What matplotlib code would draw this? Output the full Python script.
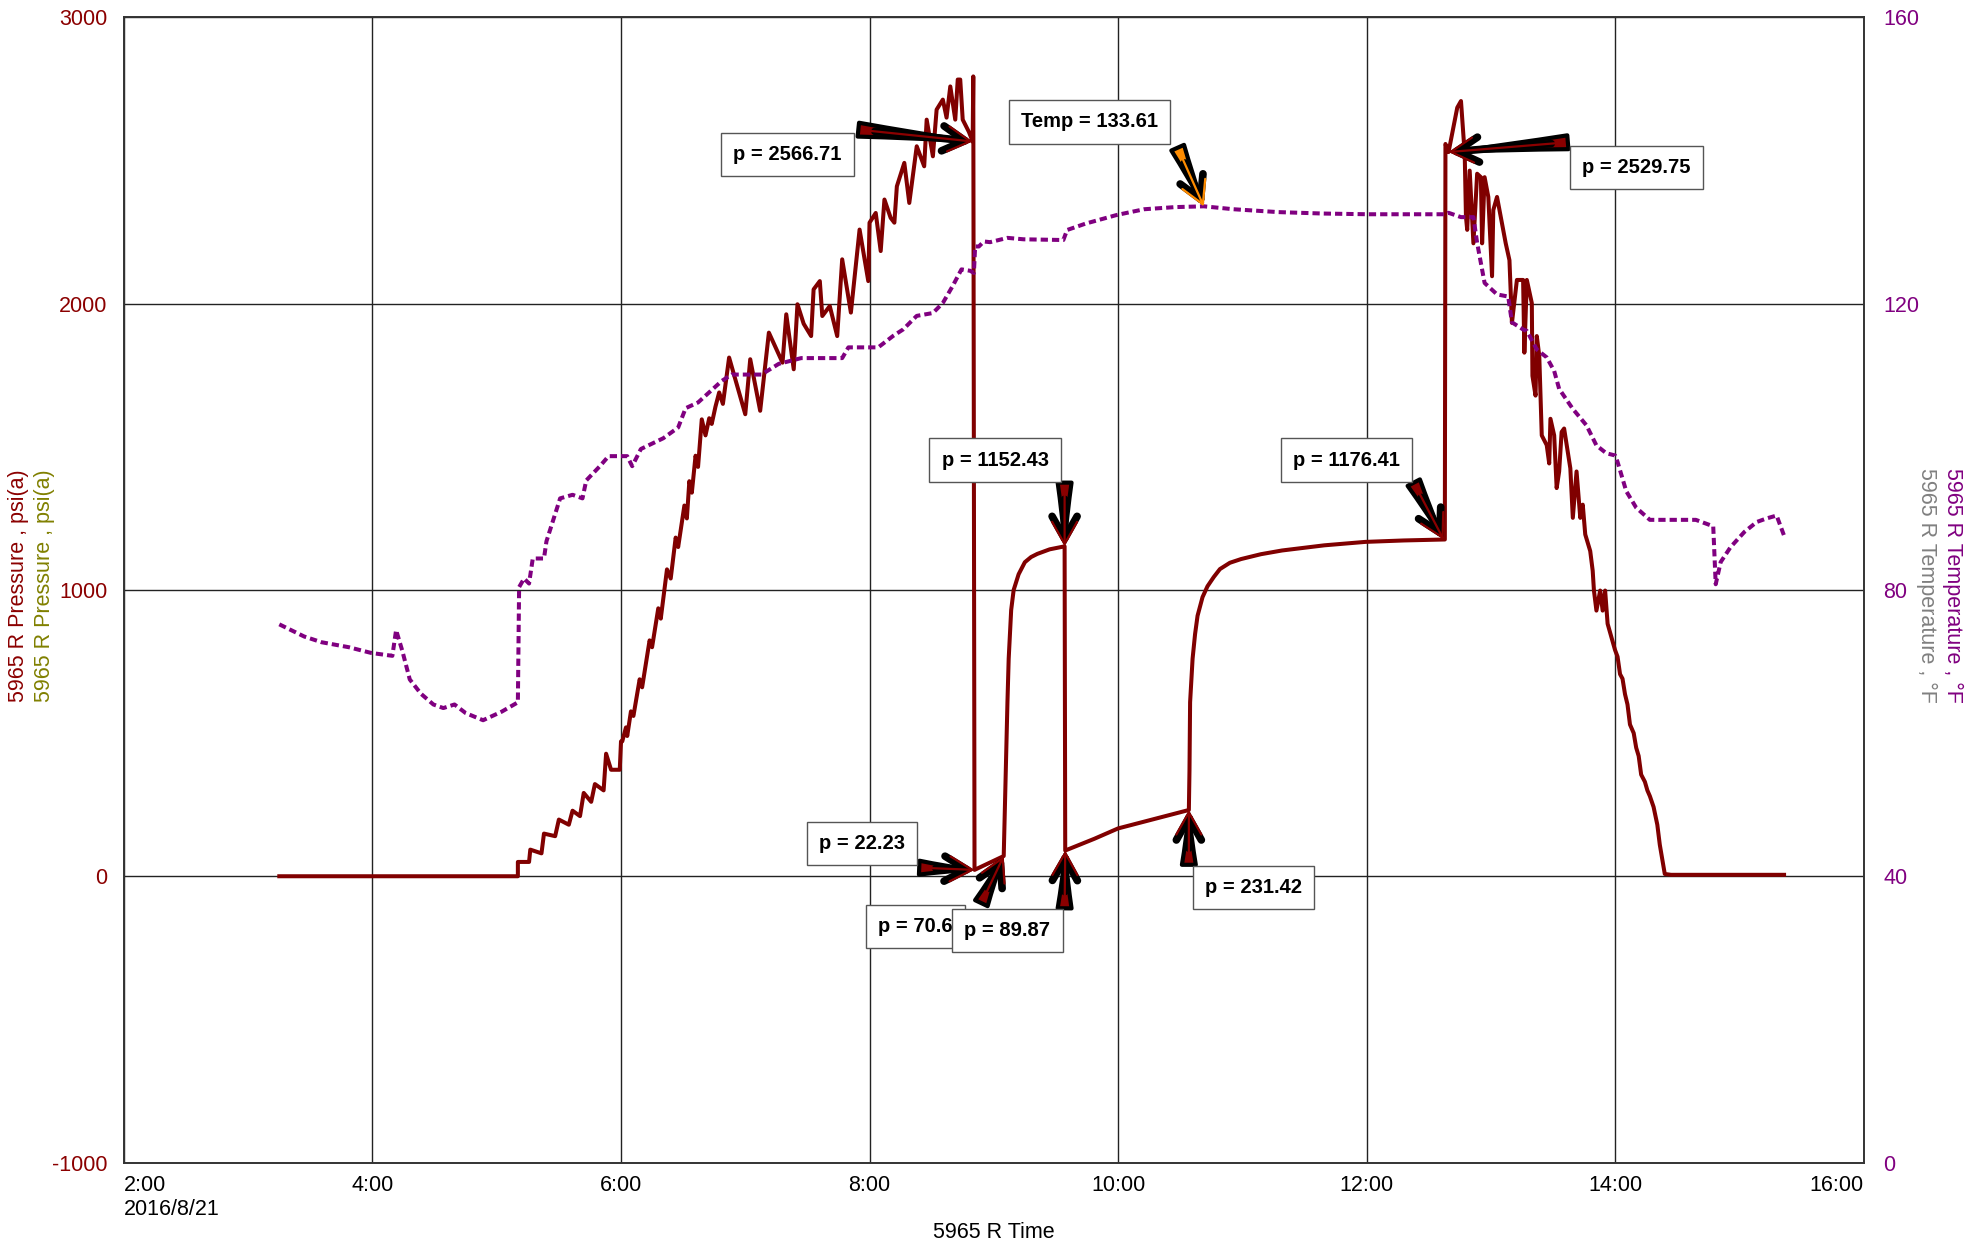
import numpy as np
import matplotlib
matplotlib.use("Agg")
import matplotlib.pyplot as plt
from matplotlib.ticker import FixedLocator, FuncFormatter

plt.rcParams['font.family'] = ['Liberation Sans', 'DejaVu Sans']
plt.rcParams['axes.unicode_minus'] = False

# pressure trace (hours of 2016/8/21, psi(a))
p_hours = [3.25, 5.17, 5.17, 5.26, 5.27, 5.36, 5.38, 5.47, 5.50, 5.58, 5.61, 5.67, 5.70, 5.76,
           5.79, 5.86, 5.88, 5.92, 5.99, 6.00, 6.01, 6.04, 6.05, 6.08, 6.10, 6.15, 6.17, 6.23,
           6.25, 6.30, 6.32, 6.37, 6.40, 6.44, 6.46, 6.51, 6.53, 6.55, 6.57, 6.60, 6.62, 6.65,
           6.68, 6.71, 6.73, 6.76, 6.79, 6.82, 6.87, 7.00, 7.04, 7.12, 7.19, 7.30, 7.33, 7.39,
           7.42, 7.47, 7.53, 7.55, 7.60, 7.62, 7.68, 7.74, 7.78, 7.85, 7.92, 7.99, 8.00, 8.05,
           8.09, 8.12, 8.17, 8.20, 8.22, 8.28, 8.32, 8.38, 8.44, 8.46, 8.51, 8.54, 8.59, 8.62,
           8.65, 8.69, 8.71, 8.73, 8.75, 8.80, 8.83, 8.835, 8.845, 9.08, 9.09, 9.10, 9.11, 9.12,
           9.13, 9.14, 9.16, 9.20, 9.25, 9.30, 9.35, 9.45, 9.57, 9.575, 9.81, 10.00, 10.32,
           10.57, 10.575, 10.58, 10.60, 10.62, 10.64, 10.68, 10.72, 10.77, 10.82, 10.90, 10.99,
           11.15, 11.32, 11.66, 11.99, 12.30, 12.63, 12.635, 12.66, 12.73,
           12.76, 12.79, 12.80, 12.81, 12.83, 12.86, 12.89, 12.92, 12.93, 12.95, 12.98, 13.01,
           13.02, 13.05, 13.08, 13.12, 13.15, 13.17, 13.21, 13.26, 13.27, 13.29, 13.33, 13.335,
           13.36, 13.37, 13.39, 13.41, 13.45, 13.47, 13.48, 13.51, 13.53, 13.55, 13.57, 13.59,
           13.64, 13.66, 13.69, 13.72, 13.74, 13.76, 13.80, 13.82, 13.83, 13.85, 13.88, 13.90,
           13.92, 13.94, 13.97, 14.00, 14.02, 14.04, 14.06, 14.08, 14.10, 14.12, 14.15, 14.17,
           14.19, 14.21, 14.24, 14.26, 14.28, 14.31, 14.34, 14.36, 14.40, 14.45, 15.36]
p_vals = [0, 0, 50, 50, 93, 80, 149, 140, 198, 180, 229, 210, 291, 260,
          322, 300, 428, 372, 372, 471, 471, 520, 490, 576, 560, 688, 660, 824,
          800, 936, 900, 1072, 1040, 1183, 1150, 1295, 1250, 1380, 1340, 1469, 1430, 1596,
          1540, 1600, 1580, 1640, 1690, 1650, 1812, 1614, 1806, 1626, 1899, 1794, 1963, 1771,
          1998, 1930, 1887, 2050, 2079, 1957, 1992, 1887, 2155, 1969, 2259, 2079, 2283, 2317,
          2184, 2364, 2300, 2283, 2410, 2492, 2352, 2550, 2480, 2643, 2515, 2678, 2713, 2650,
          2759, 2643, 2783, 2783, 2643, 2600, 2566.71, 2794, 22.23, 70.6, 250, 420, 608, 760,
          846, 930, 1000, 1055, 1097, 1115, 1126, 1142, 1152.43, 89.87, 131, 167, 203,
          231.42, 369, 608, 760, 846, 910, 975, 1013, 1045, 1073, 1095, 1108,
          1125, 1138, 1156, 1168, 1173, 1176.41, 2558, 2529.75, 2685,
          2708, 2523, 2304, 2258, 2465, 2211, 2454, 2442, 2211, 2442, 2373, 2096,
          2327, 2373, 2304, 2211, 2152, 1933, 2083, 2083, 1829, 2083, 2002, 1748,
          1679, 1887, 1818, 1540, 1506, 1442, 1598, 1540, 1356, 1414, 1552, 1564,
          1425, 1252, 1414, 1252, 1298, 1194, 1136, 1067, 998, 928, 998, 928,
          998, 882, 836, 790, 767, 706, 690, 636, 600, 530, 500, 449,
          420, 355, 330, 300, 280, 242, 180, 110, 8, 5, 5]

# temperature trace (deg F)
t_hours = [3.25, 3.45, 3.59, 3.81, 3.99, 4.16, 4.19, 4.24, 4.30, 4.39, 4.49, 4.57, 4.66, 4.75,
           4.89, 5.04, 5.17, 5.18, 5.22, 5.26, 5.29, 5.38, 5.40, 5.51, 5.61, 5.69, 5.72, 5.83,
           5.90, 6.05, 6.09, 6.16, 6.34, 6.46, 6.52, 6.62, 6.81, 6.89, 7.13, 7.27, 7.45, 7.78,
           7.83, 8.07, 8.19, 8.27, 8.38, 8.51, 8.59, 8.67, 8.74, 8.81, 8.84, 8.85, 8.88, 8.92,
           8.97, 9.11, 9.24, 9.56, 9.59, 9.74, 9.99, 10.21, 10.46, 10.69, 10.93, 11.29, 11.65,
           12.01, 12.63, 12.66, 12.76, 12.86, 12.89, 12.95, 13.05, 13.14, 13.17, 13.26, 13.29,
           13.37, 13.45, 13.51, 13.55, 13.66, 13.77, 13.85, 13.93, 14.00, 14.02, 14.09, 14.17,
           14.28, 14.44, 14.65, 14.79, 14.81, 14.85, 14.93, 15.04, 15.14, 15.22, 15.30, 15.36]
t_vals = [75.2, 73.5, 72.7, 72.0, 71.2, 70.8, 74.4, 71.5, 67.5, 65.5, 64.0, 63.5, 64.0, 62.8,
          61.8, 63.0, 64.3, 80.4, 81.6, 80.9, 84.4, 84.4, 86.8, 92.8, 93.3, 92.8, 95.3, 97.3,
          98.7, 98.7, 97.3, 99.7, 101.2, 102.7, 105.4, 106.2, 109.2, 110.1, 110.1, 111.6, 112.4, 112.4,
          113.9, 113.9, 115.5, 116.4, 118.3, 118.7, 120.1, 122.5, 124.8, 124.6, 124.3, 128.0, 128.0, 128.7,
          128.6, 129.2, 129.0, 128.9, 130.3, 131.2, 132.4, 133.2, 133.5, 133.61, 133.2, 132.8, 132.6,
          132.5, 132.5, 132.7, 132.1, 132.1, 128.5, 122.9, 121.3, 121.0, 117.4, 116.4, 116.2,
          113.6, 112.5, 110.6, 108.1, 105.3, 103.0, 100.2, 99.1, 98.8, 97.9, 93.8, 91.5,
          89.8, 89.8, 89.8, 88.9, 80.8, 83.9, 86.0, 88.1, 89.5, 90.0, 90.4, 87.6]

# annotations: label, tip (hour, value), box centre, arrow tail, axis
ann_text = ["p = 2566.71", "Temp = 133.61", "p = 2529.75", "p = 1152.43", "p = 1176.41",
            "p = 22.23", "p = 70.6", "p = 89.87", "p = 231.42"]
ann_tip = [(8.83, 2566.71), (10.69, 133.61), (12.66, 2529.75), (9.57, 1152.43), (12.62, 1176.41),
           (8.845, 22.23), (9.08, 70.6), (9.575, 89.87), (10.57, 231.42)]
ann_box = [(7.34, 2520), (9.77, 145.4), (14.17, 2476), (9.01, 1454), (11.84, 1454),
           (7.94, 115), (8.37, -176), (9.11, -189), (11.09, -40)]
ann_tail = [(7.91, 2608), (10.48, 141.8), (13.62, 2564), (9.57, 1375), (12.38, 1375),
            (8.40, 30), (8.90, -94), (9.57, -112), (10.57, 40)]
ann_temp = [False, True, False, False, False, False, False, False, False]

fig = plt.figure(figsize=(19.71, 12.46), dpi=100)
ax1 = fig.add_axes([0.0629, 0.067, 0.8826, 0.919])
ax2 = ax1.twinx()

ax1.plot(p_hours, p_vals, color='#800000', lw=2.9, zorder=3)
ax2.plot(t_hours, t_vals, color='#800080', lw=2.9, linestyle=(0, (1.8, 1.0)), zorder=3)

ax1.set_xlim(2, 16)
ax1.set_ylim(-1000, 3000)
ax2.set_ylim(0, 160)
ax1.xaxis.set_major_locator(FixedLocator(np.arange(2, 17, 2)))
ax1.yaxis.set_major_locator(FixedLocator([-1000, 0, 1000, 2000, 3000]))
ax2.yaxis.set_major_locator(FixedLocator([0, 40, 80, 120, 160]))


def hour_fmt(v, pos):
    s = '%d:00' % int(round(v))
    if pos == 0:
        s += '\n2016/8/21'
    return s


ax1.xaxis.set_major_formatter(FuncFormatter(hour_fmt))
ax1.grid(True, color='#222222', lw=1.0)
ax1.tick_params(axis='x', length=0, pad=9, labelsize=15.5, colors='black')
ax1.tick_params(axis='y', length=0, pad=12, labelsize=15.5, labelcolor='#8b0000')
ax2.tick_params(axis='y', length=0, pad=14, labelsize=15.5, labelcolor='#800080')
labels = ax1.get_xticklabels()
labels[0].set_ha('left')
labels[-1].set_ha('right')
for sp in list(ax1.spines.values()) + list(ax2.spines.values()):
    sp.set_color('#333333')
    sp.set_linewidth(1.2)

ax1.set_xlabel('5965 R Time', fontsize=15.5, labelpad=1)
fig.text(0.0095, 0.53, '5965 R Pressure , psi(a)', rotation=90, color='#8b0000',
         fontsize=15.5, ha='center', va='center')
fig.text(0.0225, 0.53, '5965 R Pressure , psi(a)', rotation=90, color='#808000',
         fontsize=15.5, ha='center', va='center')
fig.text(0.9905, 0.53, '5965 R Temperature , \u00b0F', rotation=270, color='#800080',
         fontsize=15.5, ha='center', va='center')
fig.text(0.9775, 0.53, '5965 R Temperature , \u00b0F', rotation=270, color='#808080',
         fontsize=15.5, ha='center', va='center')

# callouts drawn on the top axes so they sit over both curves
head = '->,head_length=1.6,head_width=0.9'
for i in range(len(ann_text)):
    tr = ax2.transData if ann_temp[i] else ax1.transData
    fill = '#ff8c00' if ann_temp[i] else '#8b0000'
    ax2.annotate('', xy=ann_tip[i], xytext=ann_tail[i], xycoords=tr, textcoords=tr,
                 arrowprops=dict(arrowstyle='wedge,tail_width=1.0,shrink_factor=0.45',
                                 fc=fill, ec='black', lw=3, shrinkA=0, shrinkB=3), zorder=6)
    ax2.annotate('', xy=ann_tip[i], xytext=ann_tail[i], xycoords=tr, textcoords=tr,
                 arrowprops=dict(arrowstyle=head, color='black', lw=5.5,
                                 shrinkA=12, shrinkB=0, capstyle='round'), zorder=7)
    ax2.annotate('', xy=ann_tip[i], xytext=ann_tail[i], xycoords=tr, textcoords=tr,
                 arrowprops=dict(arrowstyle=head, color=fill, lw=1.6,
                                 shrinkA=4, shrinkB=0), zorder=8)
    ax2.text(ann_box[i][0], ann_box[i][1], ann_text[i], transform=tr, ha='center', va='center',
             fontsize=14.5, fontweight='bold', zorder=9,
             bbox=dict(boxstyle='square,pad=0.6', fc='white', ec='#555555', lw=1))

fig.savefig('out.png', dpi=100)
